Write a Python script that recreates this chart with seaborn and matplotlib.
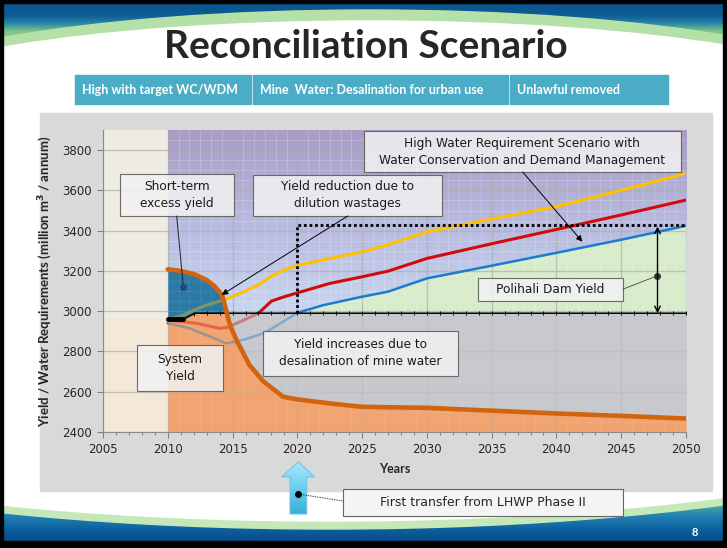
import numpy as np
import matplotlib
matplotlib.use("Agg")
import matplotlib.pyplot as plt
from matplotlib.patches import Rectangle, Ellipse, Polygon
from matplotlib.colors import LinearSegmentedColormap
import seaborn as sns

# ---- values ----
# system yield (thick orange line)
yield_years = [2010, 2011, 2012, 2013, 2013.6, 2014.2, 2014.5, 2014.8, 2015.3, 2016.3,
               2017.4, 2018.9, 2020, 2022.5, 2025, 2030, 2035, 2040, 2045, 2050]
yield_vals = [3208, 3200, 3185, 3155, 3125, 3080, 3006, 2931, 2857, 2733,
              2650, 2575, 2562, 2542, 2525, 2520, 2506, 2492, 2480, 2467]

# yield incl. desalination of mine water (black base line)
base_years = [2010, 2011.2, 2012.1, 2050]
base_vals = [2960, 2960, 2990, 2990]

# water requirement lines
yellow_years = [2010, 2011, 2012, 2013, 2014.5, 2016, 2017.4, 2018, 2019, 2020,
                2022, 2025, 2027, 2030, 2035, 2040, 2045, 2050]
yellow_vals = [2960, 2975, 3005, 3030, 3060, 3100, 3146, 3175, 3205, 3228,
               3255, 3295, 3330, 3394, 3458, 3519, 3601, 3684]

red_years = [2010, 2012.2, 2014, 2014.6, 2016, 2017, 2018, 2019, 2020,
             2022.5, 2025, 2027, 2030, 2035, 2040, 2045, 2050]
red_vals = [2956, 2940, 2915, 2920, 2960, 2990, 3050, 3072, 3091,
            3138, 3171, 3199, 3262, 3335, 3406, 3478, 3552]

blue_years = [2010, 2011.7, 2013.3, 2014.5, 2015.8, 2017.4, 2018.9, 2020,
              2022, 2025, 2027, 2030, 2035, 2040, 2045, 2050]
blue_vals = [2940, 2915, 2873, 2840, 2857, 2890, 2948, 2992,
             3030, 3072, 3097, 3163, 3226, 3290, 3355, 3424]

# Polihali dam (first transfer and target level)
polihali_year = 2020
polihali_level = 3430

header_labels = ["High with target WC/WDM", "Mine  Water: Desalination for urban use",
                 "Unlawful removed"]

sns.set_style("white")
plt.rcParams["font.family"] = ["DejaVu Sans"]

W, H = 727, 548
fig = plt.figure(figsize=(W / 100, H / 100), dpi=100)


def vgrad(axis, extent, colors, zorder, clip=None):
    cmap = LinearSegmentedColormap.from_list("g", colors)
    im = axis.imshow(np.linspace(0, 1, 256).reshape(-1, 1), cmap=cmap, aspect="auto",
                     extent=extent, zorder=zorder, interpolation="bilinear")
    if clip is not None:
        im.set_clip_path(clip)
    return im


# ---- slide background, in pixel coordinates ----
bg = fig.add_axes([0, 0, 1, 1])
bg.axis("off")

top_band = Rectangle((0, 0), W, 52, transform=bg.transData)
vgrad(bg, (0, W, 52, 0), [(0, "#0A4F86"), (0.3, "#0D5D95"), (0.45, "#2A86A8"),
                          (0.6, "#7CC48A"), (1, "#B2DEA4")], 0)
rim = bg.add_patch(Ellipse((370, 106), 1048, 192, color="#B5E0A8", zorder=1))
rim.set_clip_path(top_band)
bg.add_patch(Ellipse((370, 106), 1016, 170, color="white", zorder=1.1))

bottom_band = Rectangle((0, 486), W, H - 486, transform=bg.transData)
vgrad(bg, (0, W, H, 486), ["#B8E2B0", "#5BB58F", "#1E7EB3", "#0A5A98", "#07447A"], 0)
rim = bg.add_patch(Ellipse((330, 360), 1532, 338, color="#C5E8B8", zorder=1))
rim.set_clip_path(bottom_band)
bg.add_patch(Ellipse((330, 360), 1514, 322, color="white", zorder=1.1))

bg.add_patch(Rectangle((40, 113), 672, 378, color="#D9D9D9", zorder=2))

bg.text(366, 47, "Reconciliation Scenario", ha="center", va="center", fontsize=28,
        fontweight="bold", family="Lato", zorder=3)

for (x0, x1), label in zip([(75, 251), (253, 508), (510, 668)], header_labels):
    bg.add_patch(Rectangle((x0, 75), x1 - x0, 29, color="#4BACC6", zorder=2))
    bg.text(x0 + 7, 90, label, ha="left", va="center", color="white", fontsize=9,
            fontweight="bold", family="Lato", zorder=3)

# "first transfer" arrow under the x axis
arrow = Polygon([(298.3, 461.7), (314.7, 477), (306.7, 477), (306.7, 514),
                 (290, 514), (290, 477), (281.7, 477)], closed=True,
                facecolor="none", edgecolor="#6FC6E6", lw=0.8, zorder=3)
bg.add_patch(arrow)
vgrad(bg, (280, 316, 515, 461), ["#A8E8FA", "#6CCFEE", "#35AEDA"], 2.9, clip=arrow)
bg.plot([298, 343], [494, 501], color="#444444", lw=0.7, ls=(0, (1.5, 1)), zorder=4)
bg.plot(298, 494, "o", color="black", ms=4, zorder=5)
bg.add_patch(Rectangle((343, 489), 280, 27, facecolor="#F4F4F4", edgecolor="#666666",
                       lw=0.8, zorder=3))
bg.text(483, 503, "First transfer from LHWP Phase II", ha="center", va="center",
        fontsize=9, zorder=4)

bg.text(695, 532, "8", ha="center", va="center", color="white", fontsize=8,
        fontweight="bold", family="Lato", zorder=4)

bg.add_patch(Rectangle((0, 0), W, H, fill=False, edgecolor="black", lw=6, zorder=6))
bg.add_patch(Rectangle((0, 541), W, 7, color="black", zorder=6))
bg.set_xlim(0, W)
bg.set_ylim(H, 0)

# ---- chart ----
ax = fig.add_axes([103 / W, 1 - 432 / H, 583 / W, 302 / H])
ax.set_facecolor("#C6C8CD")

# sky gradient above the yield line and the 2005-2010 history strip
vgrad(ax, (2010, 2050, 2990, 3900), ["#A99CC6", "#B7B9DD", "#C9D7F0"], 0.5)
ax.axvspan(2005, 2010, color="#EEEBE3", lw=0, zorder=0.6)
ax.fill_between([2005, 2010], 2400, 2960, color="#F3E7D8", lw=0, zorder=0.7)

xs = np.union1d(yield_years, base_years)
sys_y = np.interp(xs, yield_years, yield_vals)
base_y = np.interp(xs, base_years, base_vals)


def layer(x, lo, hi, color, where=None):
    # opaque fill, lines on top, then a translucent copy that fades the hidden lines
    ax.fill_between(x, lo, hi, where=where, color=color, lw=0, zorder=1, interpolate=True)
    ax.fill_between(x, lo, hi, where=where, color=color, lw=0, alpha=0.6, zorder=3,
                    interpolate=True)


layer(xs, 2400, np.minimum(sys_y, base_y), "#F1A46F")
layer(xs, base_y, sys_y, "#2C79A5", where=sys_y > base_y)
layer(xs, sys_y, base_y, "#C6C8CD", where=sys_y < base_y)

blue_base = np.interp(blue_years, base_years, base_vals)
ax.fill_between(blue_years, blue_base, blue_vals, where=np.array(blue_vals) > blue_base,
                color="#D8EBCA", lw=0, zorder=1, interpolate=True)

# fine pattern grid
for xv in np.arange(2010, 2050, 5 / 6):
    ax.axvline(xv, color="white", alpha=0.22, lw=0.6, zorder=1.6)
for yv in np.arange(2400, 3900, 50):
    ax.axhline(yv, color="white", alpha=0.22, lw=0.6, zorder=1.6)

sns.lineplot(x=yellow_years, y=yellow_vals, ax=ax, color="#FFC000", lw=2.2, zorder=2)
sns.lineplot(x=red_years, y=red_vals, ax=ax, color="#D10A0A", lw=2.2, zorder=2)
sns.lineplot(x=blue_years, y=blue_vals, ax=ax, color="#1A7BD0", lw=1.8, zorder=2)

sns.lineplot(x=base_years, y=base_vals, ax=ax, color="black", lw=1.1, zorder=5)
sns.lineplot(x=base_years[:2], y=base_vals[:2], ax=ax, color="black", lw=3.5, zorder=5)
tick_years = np.arange(2012, 2051)
ax.plot(tick_years, np.interp(tick_years, base_years, base_vals), "|", color="black",
        ms=3, mew=0.7, zorder=5)

sns.lineplot(x=yield_years, y=yield_vals, ax=ax, color="#D2640F", lw=3.3, zorder=6)

ax.plot([polihali_year, polihali_year, 2050], [2990, polihali_level, polihali_level],
        ls=(0, (1, 1)), color="black", lw=2, zorder=6)

# annotation boxes
boxes = [
    (2006.3, 2015.1, 3473, 3682, "Short-term\nexcess yield"),
    (2016.6, 2031.2, 3473, 3677, "Yield reduction due to\ndilution wastages"),
    (2025.15, 2049.6, 3691, 3895,
     "High Water Requirement Scenario with\nWater Conservation and Demand Management"),
    (2007.6, 2014.3, 2604, 2832, "System\nYield"),
    (2017.35, 2032.4, 2678, 2902, "Yield increases due to\ndesalination of mine water"),
    (2033.95, 2045.15, 3051, 3165, "Polihali Dam Yield"),
]
for x0, x1, y0, y1, txt in boxes:
    ax.add_patch(Rectangle((x0, y0), x1 - x0, y1 - y0, facecolor="#F2F2F2", alpha=0.85,
                           edgecolor="#555555", lw=0.8, zorder=7))
    ax.text((x0 + x1) / 2, (y0 + y1) / 2, txt, ha="center", va="center", fontsize=8.7,
            linespacing=1.4, color="#1A1A1A", zorder=8)

ax.plot([2010.69, 2011.2], [3473, 3119], color="#222222", lw=0.7, zorder=9)
ax.plot(2011.2, 3119, "o", color="#1B4F72", ms=4, zorder=9)
ax.plot([2045.15, 2047.75], [3110, 3175], color="#444444", lw=0.6, zorder=9)
ax.plot(2047.75, 3175, "o", color="#333333", ms=4, zorder=9)
arrow_kw = dict(arrowstyle="-|>", color="black", lw=0.7, mutation_scale=9,
                shrinkA=0, shrinkB=0)
ax.annotate("", xy=(2014.16, 3081), xytext=(2023.9, 3473), arrowprops=arrow_kw, zorder=9)
ax.annotate("", xy=(2042.0, 3345), xytext=(2037.4, 3691), arrowprops=arrow_kw, zorder=9)
ax.annotate("", xy=(2047.8, 2990), xytext=(2047.8, 3420), zorder=9,
            arrowprops=dict(arrowstyle="<->", color="black", lw=1, mutation_scale=10,
                            shrinkA=0, shrinkB=0))

ax.set_xlim(2005, 2050)
ax.set_ylim(2400, 3900)
ax.set_xticks(np.arange(2005, 2051, 5))
ax.set_xticks(np.arange(2005, 2051, 1), minor=True)
ax.set_yticks(np.arange(2400, 3801, 200))
ax.grid(True, which="major", color="#8E8E8E", lw=0.9, alpha=0.6)
ax.set_axisbelow("line")
ax.tick_params(axis="both", which="both", direction="out", bottom=True, left=True,
               color="#7F7F7F", width=0.8, labelsize=8.5, pad=4)
ax.tick_params(axis="both", which="major", length=4)
ax.tick_params(axis="x", which="minor", length=2.5)
for side in ["top", "right"]:
    ax.spines[side].set_visible(False)
for side in ["left", "bottom"]:
    ax.spines[side].set_color("#8C8C8C")
    ax.spines[side].set_zorder(10)

ax.set_xlabel("Years", fontsize=9, fontweight="bold", family="Lato", labelpad=5)
ax.set_ylabel("Yield / Water Requirements (million m$^\\mathbf{3}$ / annum)", fontsize=9.5,
              fontweight="bold", family="Lato", labelpad=6)

fig.savefig("out.png", dpi=100)
